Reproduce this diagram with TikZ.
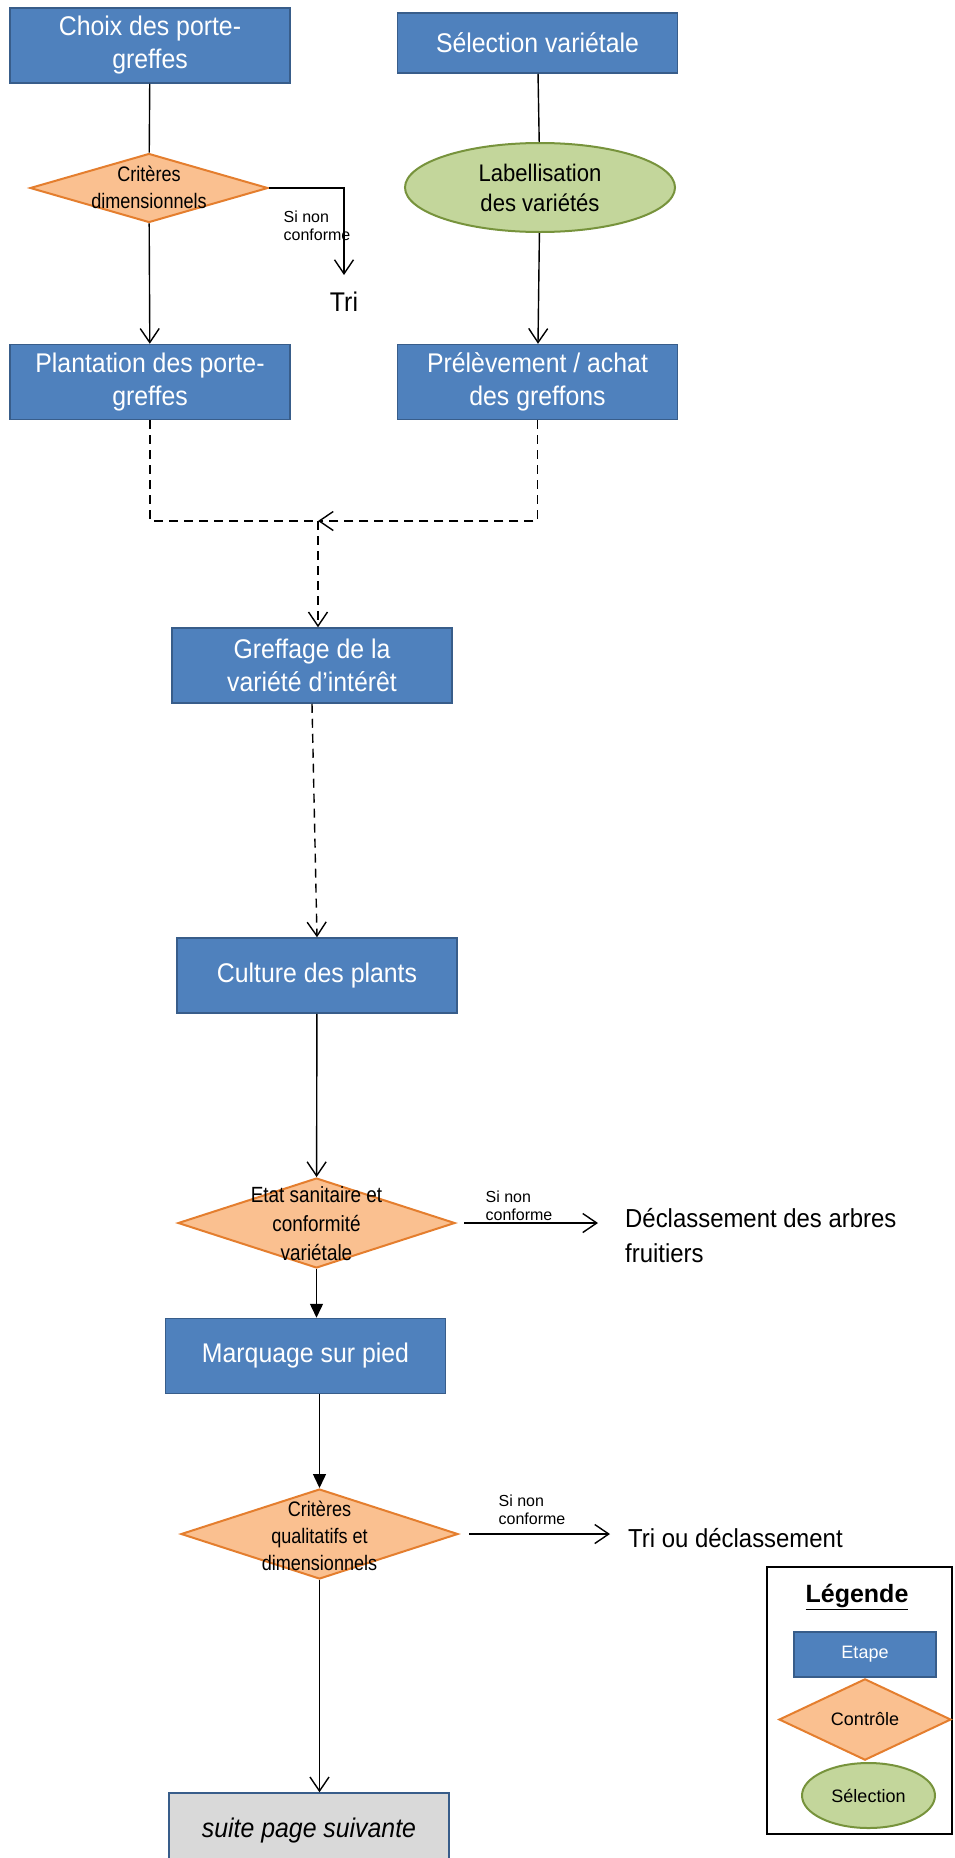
\documentclass[tikz,border=0pt]{standalone}
\usepackage{fontspec}
\setmainfont{Liberation Sans}
\newfontfamily\narrowsf[FakeStretch=0.86]{Liberation Sans}
\newfontfamily\boxsf[FakeStretch=0.92]{Liberation Sans}
\usepackage{tikz}
\usetikzlibrary{shapes.geometric,arrows.meta}

\definecolor{etapefill}{HTML}{4F81BD}
\definecolor{etapedraw}{HTML}{385D8A}
\definecolor{ctrlfill}{HTML}{FAC090}
\definecolor{ctrldraw}{HTML}{E47E2E}
\definecolor{selfill}{HTML}{C3D69B}
\definecolor{seldraw}{HTML}{77933C}
\definecolor{suitefill}{HTML}{D9D9D9}

\begin{document}
\begin{tikzpicture}[x=1pt,y=-1pt,
    etape/.style={rectangle, fill=etapefill, draw=etapedraw, line width=1.5pt,
      minimum width=280pt, minimum height=75pt, inner sep=0pt, text=white,
      align=center, font=\boxsf\fontsize{27}{33}\selectfont},
    controle/.style={diamond, fill=ctrlfill, draw=ctrldraw, line width=2pt, inner sep=0pt},
    ctrltext/.style={align=center, inner sep=0pt, font=\narrowsf\fontsize{21}{27}\selectfont},
    selection/.style={ellipse, fill=selfill, draw=seldraw, line width=2pt, inner sep=0pt, align=center},
    resultat/.style={anchor=west, inner sep=0pt, align=left, font=\boxsf\fontsize{26}{35}\selectfont},
    sinon/.style={align=left, inner sep=0pt, font=\fontsize{16}{18}\selectfont},
    trait/.style={line width=1.4pt},
    fleche/.style={line width=1.4pt, -{Straight Barb[length=14pt,width=19pt]}},
    plein/.style={line width=1.4pt, -{Triangle[length=14pt,width=13pt]}},
    tirets/.style={line width=1.4pt, dash pattern=on 9pt off 6pt}]
            \useasboundingbox (0,0) rectangle (954,1858);

            \node[etape] at (150,45.5) (choix) {Choix des porte-\\greffes};
            \node[etape, minimum height=60pt] at (537.5,43) (selvar) {Sélection variétale};

            \node[controle, minimum width=238pt, minimum height=69pt] at (149,188) (crit1) {};
            \node[ctrltext] at (149,187) (crit1t) {Critères\\dimensionnels};
            \node[selection, minimum width=270pt, minimum height=89pt,
              font=\boxsf\fontsize{24}{30}\selectfont] at (540,187.5) (label) {Labellisation\\des variétés};

            \node[inner sep=0pt, anchor=north, font=\boxsf\fontsize{27}{28}\selectfont] at (344,292) (tri) {Tri};
            \node[sinon] at (317,226) (sinon1) {Si non\\conforme};

            \node[etape] at (150,382) (plant) {Plantation des porte-\\greffes};
            \node[etape] at (537.5,382) (prelev) {Prélèvement / achat\\des greffons};

            \coordinate (jonction) at (318,521);

            \node[etape] at (312,665.5) (greff) {Greffage de la\\variété d’intérêt};
            \node[etape] at (317,975.5) (culture) {Culture des plants};

            \node[controle, minimum width=277pt, minimum height=90pt] at (316.5,1223) (crit2) {};
            \node[ctrltext, font=\narrowsf\fontsize{22}{29}\selectfont] at (316.5,1224) (crit2t)
              {Etat sanitaire et\\conformité\\variétale};
            \node[sinon] at (519,1206) (sinon2) {Si non\\conforme};
            \node[resultat] at (625,1236) (declass) {Déclassement des arbres\\fruitiers};

            \node[etape] at (305.5,1356) (marq) {Marquage sur pied};

            \node[controle, minimum width=277pt, minimum height=90pt] at (319.5,1534) (crit3) {};
            \node[ctrltext] at (319.5,1536) (crit3t) {Critères\\qualitatifs et\\dimensionnels};
            \node[sinon] at (532,1510) (sinon3) {Si non\\conforme};
            \node[resultat] at (628,1538) (trideclass) {Tri ou déclassement};

            \node[etape, fill=suitefill, text=black, font=\boxsf\itshape\fontsize{27}{30}\selectfont]
              at (309,1830.5) (suite) {suite page suivante};

            \draw[trait] (choix) -- (crit1);
            \draw[fleche] (crit1) -- (plant);
            \draw[fleche] (crit1.east) -| ([yshift=17pt]tri.north);
            \draw[trait] (selvar) -- (label);
            \draw[fleche] (label) -- (prelev);

            \draw[tirets] (plant.south) |- (jonction);
            \draw[tirets, fleche] (prelev.south) |- (jonction);
            \draw[tirets, fleche] (jonction) -- (jonction |- greff.north);
            \draw[tirets, fleche] (greff.south) -- (culture.north);

            \draw[fleche] (culture) -- (crit2);
            \draw[fleche] ([xshift=8pt]crit2.east) -- ([xshift=-27pt]crit2.east -| declass.west);
            \draw[plein] (crit2.south) -- (crit2.south |- marq.north);
            \draw[plein] (marq.south -| crit3.north) -- (crit3.north);
            \draw[fleche] ([xshift=10pt]crit3.east) -- ([xshift=-18pt]crit3.east -| trideclass.west);
            \draw[fleche] (crit3.south) -- (crit3.south |- suite.north);

            \node[draw, line width=2.5pt, minimum width=185pt, minimum height=267pt] at (859.5,1700.5) (legende) {};
            \node[font=\bfseries\fontsize{25}{30}\selectfont] at (857,1597) (legtitre) {\underline{Légende}};
            \node[etape, minimum width=142pt, minimum height=45pt, font=\fontsize{18}{20}\selectfont]
              at (865,1654.5) (legetape) {Etape};
            \node[controle, minimum width=172pt, minimum height=57pt, font=\fontsize{18}{20}\selectfont]
              at (865,1719.5) (legctrl) {Contrôle};
            \node[selection, minimum width=133pt, minimum height=65pt, font=\fontsize{18}{20}\selectfont]
              at (868.5,1795.5) (legsel) {Sélection};
        \end{tikzpicture}
\end{document}
